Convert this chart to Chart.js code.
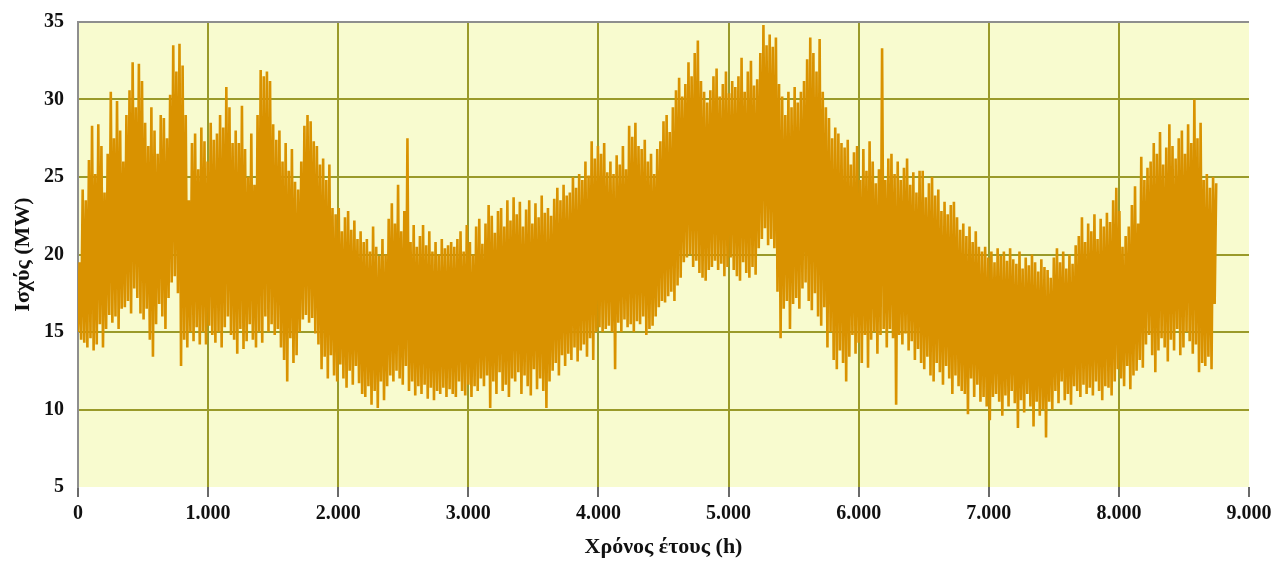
<!DOCTYPE html>
<html>
<head>
<meta charset="utf-8">
<script src="https://cdn.jsdelivr.net/npm/chart.js@4"></script>
<style>
  html, body { margin: 0; padding: 0; background: #ffffff; }
  #wrap { width: 1271px; height: 561px; position: relative; }
</style>
</head>
<body>
<div id="wrap"><canvas id="loadChart"></canvas></div>
<script>
// daily maximum load (MW), day 0 .. 364
const dailyMax = [
  19.5, 24.2, 23.5, 26.1, 28.3, 25.2, 28.4, 27.0, 24.0, 26.5,
  30.5, 27.5, 29.9, 28.0, 26.0, 29.0, 30.6, 32.4, 29.5, 32.3,
  31.2, 28.5, 27.0, 29.5, 28.0, 26.5, 29.0, 28.8, 27.5, 30.3,
  33.5, 31.8, 33.6, 32.2, 29.0, 23.5, 27.2, 27.8, 25.5, 28.2,
  27.3, 26.0, 28.5, 27.4, 27.8, 29.0, 28.2, 30.8, 29.5, 27.2,
  28.0, 27.2, 29.6, 26.8, 25.0, 27.8, 24.5, 29.0, 31.9, 31.5,
  31.8, 31.2, 28.4, 27.4, 28.0, 26.0, 27.2, 25.4, 26.8, 24.7,
  24.2, 26.0, 28.3, 29.0, 28.6, 27.3, 27.0, 25.8, 26.2, 24.8,
  25.8, 23.0, 22.6, 23.0, 21.5, 22.4, 22.8, 21.6, 22.2, 21.0,
  21.5, 20.8, 21.0, 20.2, 21.8, 20.5, 19.9, 21.0, 20.0, 22.3,
  23.3, 22.0, 24.5, 21.5, 22.8, 27.5, 20.8, 21.9, 20.5, 21.2,
  21.9, 20.6, 21.5, 20.2, 20.8, 20.0, 21.0, 20.4, 20.6, 20.8,
  20.5, 21.0, 21.5, 20.2, 21.9, 20.8, 20.0, 21.8, 22.3, 20.7,
  22.0, 23.2, 22.5, 21.4, 22.8, 23.0, 21.8, 23.5, 22.2, 23.7,
  22.6, 23.4, 21.8, 22.9, 23.5, 22.0, 23.3, 22.4, 23.8, 22.7,
  23.0, 22.5, 23.6, 24.3, 23.5, 24.5, 23.8, 24.0, 25.0, 24.3,
  25.2, 24.8, 26.0, 25.1, 27.3, 26.2, 27.0, 26.5, 27.2, 25.3,
  26.0, 25.2, 26.4, 25.8, 27.0, 25.5, 28.3, 27.6, 28.5, 27.0,
  26.8, 27.4, 26.0, 26.5, 25.2, 26.8, 27.3, 28.6, 29.0, 27.9,
  29.5, 30.6, 31.4, 30.2, 31.0, 32.4, 31.5, 33.0, 33.8, 31.2,
  30.5, 29.8, 30.6, 31.5, 32.0, 30.2, 31.0, 31.8, 30.4, 31.2,
  30.8, 31.5, 32.7, 30.5, 31.8, 32.5, 30.9, 31.3, 33.0, 34.8,
  33.5, 34.2, 33.4, 34.0, 31.0, 30.2, 29.0, 30.5, 29.5, 30.8,
  29.8, 30.5, 31.2, 32.6, 34.0, 33.0, 31.8, 33.9, 30.5, 29.5,
  28.8, 27.5, 28.2, 27.8, 27.2, 26.9, 27.4, 25.8, 26.6, 27.0,
  24.8, 26.8, 25.4, 27.3, 26.0, 24.6, 25.5, 33.3, 24.8, 26.2,
  26.5, 25.2, 26.0, 24.8, 25.6, 26.2, 24.5, 25.3, 24.0, 25.4,
  25.4, 23.7, 24.6, 25.0, 23.8, 24.2, 22.8, 23.4, 22.6, 23.2,
  23.4, 22.4, 21.6, 22.0, 21.2, 21.8, 20.8, 21.5, 20.5, 20.2,
  20.5, 19.8, 20.2, 19.5, 20.4, 19.9, 20.2, 19.6, 20.4, 19.7,
  19.4, 20.2, 19.1, 19.8, 19.3, 20.0, 19.5, 18.9, 19.7, 19.2,
  19.0, 18.5, 19.8, 20.4, 19.5, 20.2, 19.1, 20.0, 19.4, 20.6,
  21.2, 22.4, 20.8, 22.0, 21.5, 22.6, 21.0, 22.3, 21.8, 22.7,
  22.1, 23.5, 24.3, 22.8, 20.5, 21.2, 21.8, 23.2, 24.4, 22.0,
  26.3, 24.8, 25.6, 26.0, 27.2, 26.5, 27.9, 25.8, 26.9, 28.4,
  27.0, 26.2, 27.5, 28.0, 26.5, 28.4, 27.2, 30.0, 27.5, 28.5,
  24.8, 25.2, 24.3, 25.0, 24.6
];

// daily minimum load (MW), day 0 .. 364
const dailyMin = [
  15.0, 14.5, 14.3, 14.0, 14.6, 13.8, 14.2, 15.5, 14.0, 15.2,
  16.1, 15.6, 16.0, 15.2, 16.5, 16.6, 17.0, 16.2, 17.8, 17.2,
  16.2, 15.8, 16.5, 14.5, 13.4, 15.5, 16.8, 16.0, 15.2, 17.2,
  18.2, 18.6, 17.5, 12.8, 14.5, 14.0, 15.0, 14.4, 15.3, 14.2,
  15.0, 14.2, 15.4, 14.8, 14.3, 15.0, 14.0, 15.3, 16.0, 14.8,
  14.5, 13.6, 15.2, 13.9, 14.4, 15.5, 14.5, 14.0, 15.0, 14.3,
  16.0, 15.0, 15.5, 14.8, 15.2, 14.0, 13.2, 11.8, 14.6, 13.0,
  13.5, 15.0, 15.8, 16.1, 15.6, 15.9, 14.9, 14.2, 12.6, 13.4,
  12.0, 13.5, 12.2, 11.8, 12.9, 12.0, 11.4, 12.5, 11.6, 12.8,
  11.7, 11.0, 10.8, 11.5, 10.3, 11.2, 10.1, 11.8, 10.6, 11.5,
  12.2, 11.8, 12.5, 12.0, 11.6, 12.8, 11.2, 11.8, 10.9, 11.5,
  11.0, 11.6, 10.7, 11.4, 10.6, 11.2, 11.0, 11.4, 10.8, 11.3,
  11.0, 10.8, 11.8, 11.2, 10.9, 11.6, 10.8, 11.5, 11.2, 12.0,
  11.5, 12.2, 10.1, 11.8, 11.0, 12.4, 11.2, 11.6, 10.8, 12.0,
  11.8, 12.4, 11.0, 12.2, 11.5, 10.9, 12.6, 11.3, 12.0, 11.2,
  10.1, 11.8, 12.5, 13.0, 12.2, 13.5, 12.8, 13.6, 13.2, 14.0,
  13.1, 13.8, 14.2, 13.4, 14.6, 13.2, 15.0, 15.3, 15.0, 15.2,
  15.4, 15.0, 12.6, 15.6, 15.0, 15.8, 15.3, 15.5, 15.0, 15.7,
  15.5, 16.0, 14.8, 15.2, 15.4, 16.0, 16.6, 17.0, 16.9, 17.3,
  17.6, 17.0, 18.0, 18.5, 19.5, 19.8, 20.0, 19.2, 19.6, 18.8,
  18.5, 18.3, 19.0, 19.2, 19.6, 19.0, 19.4, 18.6, 19.2, 19.8,
  19.0, 18.6, 18.3, 19.5, 18.8, 18.5, 19.2, 18.7, 20.4, 21.0,
  21.7, 20.6, 21.0, 20.4, 17.6, 14.6, 16.5, 17.0, 15.2, 16.8,
  17.2, 16.5, 17.8, 18.2, 17.0, 16.4, 17.5, 16.0, 15.4, 16.6,
  14.0, 15.0, 13.2, 12.6, 13.8, 13.0, 11.8, 13.4, 14.8, 13.6,
  14.3, 13.0, 14.8, 12.7, 14.5, 15.0, 13.6, 14.8, 15.2, 14.0,
  15.2, 14.6, 10.3, 14.8, 14.2, 14.9, 13.8, 14.4, 13.2, 13.9,
  13.0, 12.6, 13.4, 12.2, 11.8, 13.0, 12.4, 11.6, 12.8, 12.0,
  11.0, 12.2, 11.5, 11.2, 11.0, 9.7, 12.0, 10.8, 11.6, 10.5,
  10.8, 10.2, 9.3, 10.8, 11.0, 10.5, 9.6, 10.9, 10.2, 11.2,
  10.4, 8.8, 10.6, 9.8, 11.0, 10.2, 8.9, 10.5, 9.6, 10.0,
  8.2, 10.5, 10.0, 11.2, 10.4, 11.8, 10.6, 11.0, 10.3, 11.5,
  11.2, 10.8, 11.6, 11.0, 11.4, 10.9, 11.8, 11.2, 10.6, 11.5,
  11.4, 10.9, 11.8, 12.6, 12.0, 11.5, 12.8, 11.3, 12.2, 12.5,
  13.2, 12.7, 14.2, 14.8, 13.5, 12.4, 13.8, 14.6, 14.0, 13.1,
  14.5, 13.8, 15.2, 13.5, 14.0, 15.0, 14.4, 13.6, 14.2, 12.4,
  13.0, 12.8, 13.4, 12.6, 16.8
];

const xTickLabels = ['0', '1.000', '2.000', '3.000', '4.000', '5.000', '6.000', '7.000', '8.000', '9.000'];
const yTickLabels = ['5', '10', '15', '20', '25', '30', '35'];

// one night low and one day peak per day
const points = [];
dailyMin.forEach(function (lo, d) {
    points.push({ x: d * 24, y: lo });
    points.push({ x: d * 24 + 12, y: dailyMax[d] });
});

const plotBg = {
    id: 'plotBg',
    beforeDraw(chart) {
        const a = chart.chartArea;
        const ctx = chart.ctx;
        ctx.save();
        ctx.fillStyle = '#f8fbcf';
        ctx.fillRect(a.left, a.top, a.right - a.left, a.bottom - a.top);
        ctx.restore();
    }
};

const olive = '#9a9a2a';
const frame = '#8e8e8e';
const labelFont = { family: "'Liberation Serif', 'Times New Roman', serif", size: 20, weight: 'bold' };
const titleFont = { family: "'Liberation Serif', 'Times New Roman', serif", size: 22, weight: 'bold' };

new Chart(document.getElementById('loadChart'), {
    type: 'line',
    data: {
        datasets: [{
            data: points,
            borderColor: '#d99200',
            borderWidth: 2.6,
            borderJoinStyle: 'bevel',
            pointRadius: 0,
            tension: 0,
            fill: false
        }]
    },
    options: {
        responsive: true,
        maintainAspectRatio: false,
        animation: false,
        layout: { padding: { left: 10, right: 22, top: 22, bottom: 0 } },
        plugins: {
            legend: { display: false },
            tooltip: { enabled: false }
        },
        scales: {
            x: {
                type: 'linear',
                min: 0,
                max: 9000,
                afterFit: function (scale) {
                    scale.height = 74;
                    scale.paddingLeft = 0;
                    scale.paddingRight = 0;
                },
                ticks: {
                    stepSize: 1000,
                    autoSkip: false,
                    maxRotation: 0,
                    padding: 5,
                    color: '#111111',
                    font: labelFont,
                    callback: function (value, index) { return xTickLabels[index]; }
                },
                grid: {
                    color: function (c) {
                        if (c.index === 0) return frame;
                        if (c.tick && c.tick.value === 9000) return 'rgba(0,0,0,0)';
                        return olive;
                    },
                    lineWidth: 2,
                    drawTicks: true,
                    tickLength: 10,
                    tickColor: '#6a6a6a',
                    tickWidth: 2
                },
                border: { display: false },
                title: {
                    display: true,
                    text: 'Χρόνος έτους (h)',
                    color: '#111111',
                    font: titleFont,
                    padding: { top: 0, bottom: 0 }
                }
            },
            y: {
                min: 5,
                max: 35,
                afterFit: function (scale) {
                    scale.width = 68;
                    scale.paddingTop = 0;
                    scale.paddingBottom = 0;
                },
                ticks: {
                    stepSize: 5,
                    padding: 14,
                    color: '#111111',
                    font: labelFont,
                    callback: function (value, index) { return yTickLabels[index]; }
                },
                grid: {
                    color: function (c) {
                        if (c.tick && c.tick.value === 35) return frame;
                        if (c.tick && c.tick.value === 5) return 'rgba(0,0,0,0)';
                        return olive;
                    },
                    lineWidth: 2,
                    drawTicks: false
                },
                border: { display: true, color: frame, width: 2 },
                title: {
                    display: true,
                    text: 'Ισχύς (MW)',
                    color: '#111111',
                    font: titleFont,
                    padding: { top: 0, bottom: 0 }
                }
            }
        }
    },
    plugins: [plotBg]
});
</script>
</body>
</html>
